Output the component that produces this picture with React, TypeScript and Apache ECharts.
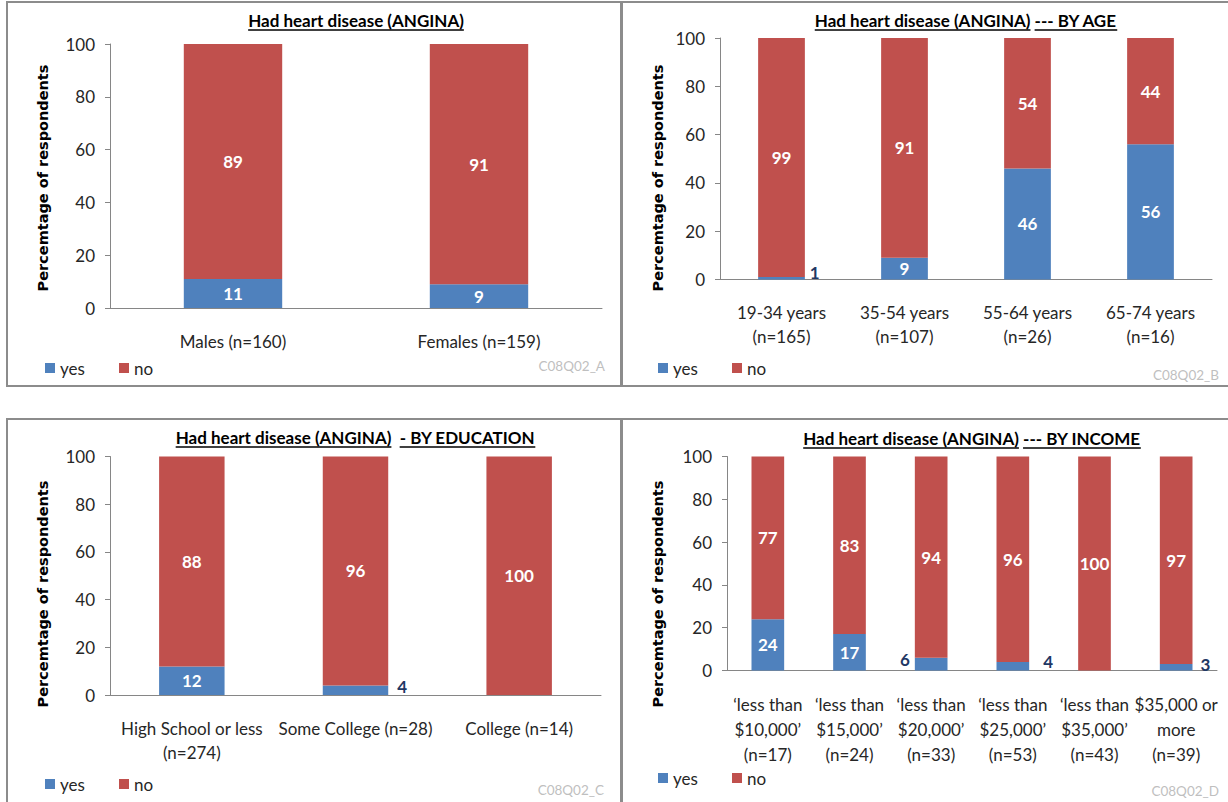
import React, { useEffect, useRef } from "react";
import * as echarts from "echarts";

// ---------------- data ----------------
const sexCategories = ["Males (n=160)", "Females (n=159)"];
const sexYes = [11, 9];
const sexNo = [89, 91];

const ageCategories = [
  "19-34 years\n(n=165)",
  "35-54 years\n(n=107)",
  "55-64 years\n(n=26)",
  "65-74 years\n(n=16)",
];
const ageYes = [1, 9, 46, 56];
const ageNo = [99, 91, 54, 44];

const eduCategories = ["High School or less\n(n=274)", "Some College (n=28)", "College (n=14)"];
const eduYes = [12, 4, 0];
const eduNo = [88, 96, 100];

const incomeCategories = [
  "\u2018less than\n$10,000\u2019\n(n=17)",
  "\u2018less than\n$15,000\u2019\n(n=24)",
  "\u2018less than\n$20,000\u2019\n(n=33)",
  "\u2018less than\n$25,000\u2019\n(n=53)",
  "\u2018less than\n$35,000\u2019\n(n=43)",
  "$35,000 or\nmore\n(n=39)",
];
const incomeYes = [24, 17, 6, 4, 0, 3];
const incomeNo = [77, 83, 94, 96, 100, 97];

const seriesNames = ["yes", "no"];
const yMin = 0;
const yMax = 100;
const yInterval = 20;

const titleMain = "Had heart disease (ANGINA)";
const yAxisTitle = "Percemtage of respondents";

// ---------------- styles ----------------
const FONT = "Lato, 'Open Sans', sans-serif";
const BLUE = "#4F81BD";
const RED = "#C0504D";
const NAVY = "#1F3864";
const AXIS = "#868686";
const BORDER = "#8C8C8C";
const TEXT = "#262626";
const LABEL_SIZE = 17;

type Outside = { [idx: number]: { position: string; offset: number[] } };

const panels = [
  {
    titleParts: [titleMain],
    sep: " ",
    titleY: 20,
    grid: { left: 110, top: 44, width: 492, height: 264 },
    cats: sexCategories,
    yes: sexYes,
    no: sexNo,
    barWidth: "40%",
    lineHeight: 24,
    border: { x: 7, y: 2, width: 614, height: 384 },
    legend: { left: 45, cy: 368 },
    mark: "C08Q02_A",
    markPos: [605, 366],
    nameX: 43,
    nameY: 178,
    outside: {} as Outside,
  },
  {
    titleParts: [titleMain, "--- BY AGE"],
    sep: " ",
    titleY: 20,
    grid: { left: 720, top: 38, width: 492, height: 241.5 },
    cats: ageCategories,
    yes: ageYes,
    no: ageNo,
    barWidth: "38%",
    lineHeight: 24,
    border: { x: 622, y: 2, width: 620, height: 384 },
    legend: { left: 658, cy: 368 },
    mark: "C08Q02_B",
    markPos: [1219, 375],
    nameX: 658,
    nameY: 178,
    outside: { 0: { position: "right", offset: [0, -6] } } as Outside,
  },
  {
    titleParts: [titleMain, "- BY EDUCATION"],
    sep: "  ",
    titleY: 437,
    grid: { left: 110, top: 456.5, width: 491, height: 238.5 },
    cats: eduCategories,
    yes: eduYes,
    no: eduNo,
    barWidth: "40%",
    lineHeight: 24,
    border: { x: 7, y: 419, width: 614, height: 400 },
    legend: { left: 45, cy: 784 },
    mark: "C08Q02_C",
    markPos: [604, 790],
    nameX: 43,
    nameY: 594,
    outside: { 1: { position: "right", offset: [4, -4] } } as Outside,
  },
  {
    titleParts: [titleMain, "--- BY INCOME"],
    sep: " ",
    titleY: 438,
    grid: { left: 727, top: 456.5, width: 490, height: 214 },
    cats: incomeCategories,
    yes: incomeYes,
    no: incomeNo,
    barWidth: "40%",
    lineHeight: 25,
    border: { x: 622, y: 419, width: 620, height: 400 },
    legend: { left: 658, cy: 778 },
    mark: "C08Q02_D",
    markPos: [1219, 791],
    nameX: 658,
    nameY: 594,
    outside: {
      2: { position: "left", offset: [0, -5] },
      3: { position: "right", offset: [9, -5] },
      5: { position: "right", offset: [3, -3] },
    } as Outside,
  },
];

const TITLE_FONT_SIZE = 17;
const TITLE_FONT = `bold ${TITLE_FONT_SIZE}px Lato`;

function measure(text: string, font: string): number {
  const c = document.createElement("canvas").getContext("2d");
  if (!c) return text.length * 8;
  c.font = font;
  return c.measureText(text).width;
}

function buildOption() {
  const grids: any[] = [];
  const xAxes: any[] = [];
  const yAxes: any[] = [];
  const series: any[] = [];
  const legends: any[] = [];
  const graphics: any[] = [];

  const yesW = measure("yes", `${LABEL_SIZE}px Lato`);

  panels.forEach((p, i) => {
    grids.push({ ...p.grid });
    xAxes.push({
      type: "category",
      gridIndex: i,
      data: p.cats,
      axisTick: { show: false },
      axisLine: { lineStyle: { color: AXIS, width: 1 } },
      axisLabel: {
        interval: 0,
        margin: 21,
        fontSize: LABEL_SIZE,
        lineHeight: p.lineHeight,
        color: TEXT,
        fontFamily: FONT,
      },
    });
    yAxes.push({
      type: "value",
      gridIndex: i,
      min: yMin,
      max: yMax,
      interval: yInterval,
      splitLine: { show: false },
      axisLine: { show: true, lineStyle: { color: AXIS, width: 1 } },
      axisTick: { show: true, length: 5, lineStyle: { color: AXIS } },
      axisLabel: { margin: 15, fontSize: LABEL_SIZE, color: TEXT, fontFamily: FONT },
    });

    const labelBase = {
      show: true,
      position: "inside",
      color: "#FFFFFF",
      fontWeight: "bold",
      fontSize: 17,
      fontFamily: FONT,
      formatter: (q: any) => (q.value ? String(q.value) : ""),
    };

    series.push({
      type: "bar",
      name: seriesNames[0],
      xAxisIndex: i,
      yAxisIndex: i,
      stack: "s" + i,
      barWidth: p.barWidth,
      itemStyle: { color: BLUE },
      label: labelBase,
      data: p.yes.map((v, j) =>
        p.outside[j]
          ? {
              value: v,
              label: {
                position: p.outside[j].position,
                offset: p.outside[j].offset,
                distance: 5,
                color: NAVY,
              },
            }
          : v
      ),
    });
    series.push({
      type: "bar",
      name: seriesNames[1],
      xAxisIndex: i,
      yAxisIndex: i,
      stack: "s" + i,
      barWidth: p.barWidth,
      itemStyle: { color: RED },
      label: labelBase,
      data: p.no.slice(),
    });

    legends.push({
      data: seriesNames.slice(),
      left: p.legend.left,
      top: p.legend.cy - 10,
      padding: 0,
      icon: "rect",
      itemWidth: 10,
      itemHeight: 10,
      itemGap: 74 - 15 - yesW,
      textStyle: { fontSize: LABEL_SIZE, fontFamily: FONT, color: TEXT, lineHeight: 20 },
      selectedMode: false,
    });

    // border
    graphics.push({
      type: "rect",
      shape: { ...p.border },
      style: { fill: "none", stroke: BORDER, lineWidth: 2 },
      silent: true,
      z: -1,
    });

    // title (centered on plot area)
    const cx = p.grid.left + p.grid.width / 2;
    const full = p.titleParts.join(p.sep);
    const totalW = measure(full, TITLE_FONT);
    const x0 = cx - totalW / 2;
    graphics.push({
      type: "text",
      x: x0,
      y: p.titleY,
      style: {
        text: full,
        font: TITLE_FONT,
        fill: "#000",
        align: "left",
        verticalAlign: "middle",
        textAlign: "left",
        textVerticalAlign: "middle",
      },
    });
    let cursor = x0;
    p.titleParts.forEach((part, k) => {
      const w = measure(part, TITLE_FONT);
      graphics.push({
        type: "line",
        shape: { x1: cursor, y1: p.titleY + 10, x2: cursor + w, y2: p.titleY + 10 },
        style: { stroke: "#000", lineWidth: 1.3 },
      });
      cursor += w;
      if (k < p.titleParts.length - 1) cursor += measure(p.sep, TITLE_FONT);
    });

    // y-axis title
    graphics.push({
      type: "text",
      x: p.nameX,
      y: p.nameY,
      rotation: Math.PI / 2,
      style: {
        text: yAxisTitle,
        font: "bold 14.5px 'DejaVu Sans'",
        fill: "#000",
        align: "center",
        verticalAlign: "middle",
        textAlign: "center",
        textVerticalAlign: "middle",
      },
    });

    // watermark
    graphics.push({
      type: "text",
      x: p.markPos[0],
      y: p.markPos[1],
      style: {
        text: p.mark,
        font: "13.5px Lato",
        fill: "#BFBFBF",
        align: "right",
        verticalAlign: "middle",
        textAlign: "right",
        textVerticalAlign: "middle",
      },
    });
  });

  return {
    animation: false,
    backgroundColor: "#FFFFFF",
    grid: grids,
    xAxis: xAxes,
    yAxis: yAxes,
    legend: legends,
    series,
    graphic: graphics,
  };
}

export default function App() {
  const ref = useRef<HTMLDivElement>(null);
  useEffect(() => {
    if (!ref.current) return;
    const chart = echarts.init(ref.current, undefined, { renderer: "svg" });
    chart.setOption(buildOption() as any);
    return () => chart.dispose();
  }, []);
  return (
    <div
      ref={ref}
      style={{ position: "absolute", left: 0, top: 0, width: 1228, height: 802, background: "#fff" }}
    />
  );
}
